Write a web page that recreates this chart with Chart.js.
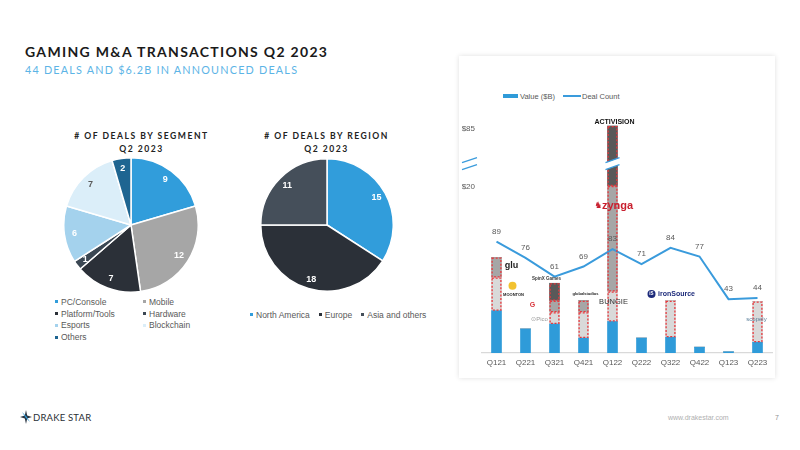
<!DOCTYPE html>
<html><head><meta charset="utf-8">
<script src="https://cdn.jsdelivr.net/npm/chart.js@4.4.0/dist/chart.umd.min.js"></script>
<style>
html,body{margin:0;padding:0;}
body{width:800px;height:450px;background:#fff;position:relative;overflow:hidden;font-family:"Liberation Sans",Arial,sans-serif;color:#595959;}
.abs{position:absolute;white-space:nowrap;}
.title{font-family:Lato,"Open Sans",sans-serif;font-weight:700;font-size:14px;line-height:14px;color:#1a1a1a;}
.sub{font-family:Lato,"Open Sans",sans-serif;font-weight:400;font-size:10.8px;line-height:10.8px;color:#5cb4e6;}
.ptitle{font-family:Lato,"Open Sans",sans-serif;font-weight:700;font-size:8.6px;line-height:13px;color:#222;text-align:center;}
.leg{font-size:8.5px;line-height:11.9px;color:#595959;}
.leg span.m{display:inline-block;width:3px;height:3px;margin-right:3px;vertical-align:middle;position:relative;top:-1px;}
.card{left:459px;top:56px;width:316px;height:322px;background:#fff;box-shadow:0 0 5px rgba(0,0,0,0.13);}
</style></head>
<body>
<div class="abs title" id="t1" style="left:25px;top:45px;" data-w="302">GAMING M&amp;A TRANSACTIONS Q2 2023</div>
<div class="abs sub" id="t2" style="left:25px;top:65.4px;" data-w="272">44 DEALS AND $6.2B IN ANNOUNCED DEALS</div>

<div class="abs ptitle" style="left:61px;top:129.5px;width:161px;">
<span data-w="133" style="display:inline-block">#&nbsp;OF DEALS BY SEGMENT</span><br><span data-w="43" style="display:inline-block">Q2 2023</span></div>
<div class="abs ptitle" style="left:246px;top:129.5px;width:161px;">
<span data-w="123" style="display:inline-block">#&nbsp;OF DEALS BY REGION</span><br><span data-w="43" style="display:inline-block">Q2 2023</span></div>

<canvas id="pie1" class="abs" style="left:63px;top:157px;" width="136" height="136"></canvas>
<canvas id="pie2" class="abs" style="left:260px;top:158px;" width="134" height="134"></canvas>

<div class="abs leg" id="leg1" style="left:55px;top:296.6px;width:180px;white-space:normal;"></div>
<div class="abs leg" id="leg2" style="left:250px;top:310px;"></div>

<div class="abs card"></div>
<div class="abs" style="left:503px;top:92px;font-size:7.5px;line-height:10px;color:#595959;">
<span style="display:inline-block;width:15px;height:4px;background:#2f9bd9;vertical-align:middle;position:relative;top:-1px;margin-right:2px;"></span>Value ($B)
<span style="display:inline-block;width:18px;height:1.5px;background:#3a9bdc;vertical-align:middle;position:relative;top:-1px;margin:0 1px 0 6px;"></span>Deal Count
</div>
<canvas id="combo" class="abs" style="left:459px;top:56px;" width="316" height="322"></canvas>

<div class="abs" style="left:20px;top:410px;width:12px;height:14px;">
<svg width="12" height="14" viewBox="0 0 12 14"><polygon points="6,0 7.2,5.5 12,7 7.2,8.5 6,14 4.8,8.5 0,7 4.8,5.5" fill="#2a3440"/><polygon points="2,2 6.5,6.5 10,12 5.5,7.5" fill="#2f9bd9"/></svg></div>
<div class="abs" style="left:33px;top:412px;font-family:Lato,sans-serif;font-size:9.5px;line-height:11px;color:#2a2f36;letter-spacing:0.2px;">DRAKE STAR</div>
<div class="abs" style="left:668px;top:413px;font-size:7px;line-height:9px;color:#b0b0b0;">www.drakestar.com</div>
<div class="abs" style="left:775px;top:413px;font-size:7px;line-height:9px;color:#909090;">7</div>

<script>
// ---------- data ----------
const SEGMENT_LABELS = ['PC/Console','Mobile','Platform/Tools','Hardware','Esports','Blockchain','Others'];
const SEGMENT_DEALS  = [9, 12, 7, 1, 6, 7, 2];
const REGION_LABELS  = ['North America','Europe','Asia and others'];
const REGION_DEALS   = [15, 18, 11];

const QUARTERS     = ['Q121','Q221','Q321','Q421','Q122','Q222','Q322','Q422','Q123','Q223'];
const VALUE_OTHER  = [5.1, 2.9, 3.5, 1.8, 3.8, 1.8, 1.9, 0.7, 0.15, 1.3];  // blue, $B
const VALUE_DEAL_A = [4.0, 0,   1.4, 3.1, 3.6, 0,   4.4, 0,   0,    4.9];  // light grey (large deals)
const VALUE_DEAL_B = [2.4, 0,   1.4, 1.4, 12.7,0,   0,   0,   0,    0  ];  // grey
const VALUE_DEAL_C = [0,   0,   2.1, 0,   68.7,0,   0,   0,   0,    0  ];  // dark grey
const DEAL_COUNT   = [89, 76, 61, 69, 83, 71, 84, 77, 43, 44];
const Y_TICK_VALUES = [20, 85];
const Y_TICK_LABELS = ['$20', '$85'];

// ---------- colours ----------
const SEG_COLORS = ['#319ddb','#a6a6a6','#2b3038','#3b4753','#a4d2ed','#dbeef9','#1e6591'];
const SEG_LABEL_COLORS = ['#fff','#fff','#fff','#fff','#fff','#595959','#fff'];
const REG_COLORS = ['#319ddb','#2b3038','#454f5a'];

// ---------- legends (html) ----------
document.getElementById('leg1').innerHTML = SEGMENT_LABELS.map((l,i)=>
  `<span style="display:inline-block;width:88px"><span class="m" style="background:${SEG_COLORS[i]}"></span>${l}</span>`).join('');
document.getElementById('leg2').innerHTML = REGION_LABELS.map((l,i)=>
  `<span style="display:inline-block;margin-right:9px"><span class="m" style="background:${REG_COLORS[i]}"></span>${l}</span>`).join('');

// ---------- text fitting ----------
document.querySelectorAll('[data-w]').forEach(el=>{
  el.style.letterSpacing='0px';
  const w = el.getBoundingClientRect().width;
  const n = el.textContent.length;
  el.style.letterSpacing = ((+el.dataset.w - w)/(n-1)) + 'px';
});

Chart.defaults.font.family = '"Liberation Sans", Arial, sans-serif';
Chart.defaults.color = '#595959';
Chart.defaults.animation = false;

// ---------- pie label plugin ----------
const pieLabels = {
  id:'pieLabels',
  afterDatasetsDraw(chart, args, opts){
    const ctx = chart.ctx, meta = chart.getDatasetMeta(0), data = chart.data.datasets[0].data;
    ctx.save();
    ctx.font = 'bold 9px "Liberation Sans", Arial, sans-serif';
    ctx.textAlign='center'; ctx.textBaseline='middle';
    meta.data.forEach((arc,i)=>{
      const p = arc.getProps(['x','y','startAngle','endAngle','outerRadius']);
      const mid = (p.startAngle+p.endAngle)/2, r = p.outerRadius*0.85;
      ctx.fillStyle = opts.colors[i];
      ctx.fillText(String(data[i]), p.x+Math.cos(mid)*r, p.y+Math.sin(mid)*r);
    });
    ctx.restore();
  }
};

function pie(id, labels, data, colors, labelColors){
  return new Chart(document.getElementById(id), {
    type:'pie',
    data:{labels, datasets:[{data, backgroundColor:colors, borderColor:'#fff', borderWidth:1.5}]},
    options:{responsive:false, layout:{padding:0},
      plugins:{legend:{display:false}, tooltip:{enabled:false}, pieLabels:{colors:labelColors}}},
    plugins:[pieLabels]
  });
}
pie('pie1', SEGMENT_LABELS, SEGMENT_DEALS, SEG_COLORS, SEG_LABEL_COLORS);
pie('pie2', REGION_LABELS, REGION_DEALS, REG_COLORS, ['#fff','#fff','#fff']);

// ---------- broken value axis ----------
const BREAK_START = 22, BREAK_RATIO = 0.08;
const toAxis = v => v <= BREAK_START ? v : BREAK_START + (v - BREAK_START)*BREAK_RATIO;
const SERIES = [VALUE_OTHER, VALUE_DEAL_A, VALUE_DEAL_B, VALUE_DEAL_C];
const SHOWN = SERIES.map(()=>[]);
QUARTERS.forEach((q,i)=>{
  let cum = 0;
  SERIES.forEach((s,k)=>{ const prev = toAxis(cum); cum += s[i]; SHOWN[k][i] = +(toAxis(cum)-prev).toFixed(4); });
});

const comboPlugin = {
  id:'comboDeco',
  afterDatasetsDraw(chart){
    const ctx = chart.ctx, xs = chart.scales.x, ys = chart.scales.y, y2 = chart.scales.y2;
    ctx.save();
    // dashed red outlines on the large-deal segments (dataset index k+1 -> SERIES[k])
    for (let k=1;k<=3;k++){
      const meta = chart.getDatasetMeta(k+1);
      meta.data.forEach((b,i)=>{
        if (!SERIES[k][i]) return;
        const p = b.getProps(['x','y','base','width']);
        ctx.strokeStyle='#e8383d'; ctx.lineWidth=1.3; ctx.setLineDash([2,1.6]);
        ctx.strokeRect(p.x-p.width/2+0.6, Math.min(p.y,p.base)+0.6, p.width-1.2, Math.abs(p.base-p.y)-1.2);
      });
    }
    ctx.setLineDash([]);
    // break marks
    const yb = ys.getPixelForValue(22.8);
    function slash(x0,x1){
      ctx.fillStyle='#fff';
      ctx.beginPath(); ctx.moveTo(x0,yb-1); ctx.lineTo(x1,yb-6); ctx.lineTo(x1,yb+1); ctx.lineTo(x0,yb+6); ctx.closePath(); ctx.fill();
      ctx.strokeStyle='#3a9bdc'; ctx.lineWidth=1.2;
      ctx.beginPath(); ctx.moveTo(x0,yb-1); ctx.lineTo(x1,yb-6); ctx.moveTo(x0,yb+6); ctx.lineTo(x1,yb+1); ctx.stroke();
    }
    const bx = xs.getPixelForValue(4);
    slash(bx-7, bx+7);
    slash(chart.chartArea.left-20, chart.chartArea.left-5);
    // deal count labels
    ctx.font = '8px "Liberation Sans", Arial, sans-serif';
    ctx.fillStyle='#595959'; ctx.textAlign='center'; ctx.textBaseline='middle';
    DEAL_COUNT.forEach((v,i)=>{ ctx.fillText(String(v), xs.getPixelForValue(i), y2.getPixelForValue(v)-10); });
    // deal logos (as text)
    const tx = (txt, cat, dx, val, font, color) => {
      ctx.font = font; ctx.fillStyle = color;
      ctx.fillText(txt, xs.getPixelForValue(cat)+dx, ys.getPixelForValue(val));
    };
    const top4 = chart.getDatasetMeta(4).data[4].y;
    ctx.font = 'bold 7px "Liberation Sans Narrow","Liberation Sans",Arial'; ctx.fillStyle='#111';
    ctx.fillText('ACTIVISION', xs.getPixelForValue(4)+2, top4-4);
    tx('zynga', 4, 5, 17.7, 'bold 11px "Liberation Sans",Arial', '#c8202f');
    tx('♞', 4, -14, 17.7, '9px "DejaVu Sans"', '#c8202f');
    tx('BUNGIE', 4, 1, 6.1, '7.5px "Liberation Sans",Arial', '#333');
    tx('ironSource', 6, 6, 7.1, 'bold 7px "Liberation Sans",Arial', '#1c2a7a');
    ctx.fillStyle='#1c2a7a'; ctx.beginPath(); ctx.arc(xs.getPixelForValue(6)-19, ys.getPixelForValue(7.1), 4, 0, Math.PI*2); ctx.fill();
    tx('iS', 6, -19, 7.1, 'bold 4.5px "Liberation Sans",Arial', '#fff');
    tx('scopely', 9, -1, 4.1, '6px "Liberation Sans",Arial', '#5a7f9a');
    tx('glu', 0, 15, 10.5, 'bold 9px "Liberation Sans",Arial', '#222');
    ctx.fillStyle='#f2c230'; ctx.beginPath(); ctx.arc(xs.getPixelForValue(0)+16, ys.getPixelForValue(8.1), 4, 0, Math.PI*2); ctx.fill();
    tx('MOONTON', 0, 17, 7.0, 'bold 4px "Liberation Sans",Arial', '#222');
    tx('SpinX Games', 1, 21, 9.0, 'bold 4.5px "Liberation Sans",Arial', '#3a3a3a');
    tx('G', 1, 7, 5.8, 'bold 7px "Liberation Sans",Arial', '#d9343b');
    tx('⊙Pico', 1, 14, 4.1, '6px "Liberation Sans",Arial', '#9a9a9a');
    tx('globalstudios', 3, 2, 7.1, 'bold 4px "Liberation Sans",Arial', '#222');
    ctx.restore();
  }
};

new Chart(document.getElementById('combo'), {
  data:{
    labels: QUARTERS,
    datasets:[
      {type:'line', label:'Deal Count', data:DEAL_COUNT, yAxisID:'y2', borderColor:'#3a9bdc', borderWidth:2, pointRadius:0, tension:0, order:0},
      {type:'bar', label:'Value ($B)', data:SHOWN[0], backgroundColor:'#2f9bd9', yAxisID:'y', barThickness:10, order:1},
      {type:'bar', label:'Deal A', data:SHOWN[1], backgroundColor:'#d9d9d9', yAxisID:'y', barThickness:10, order:1},
      {type:'bar', label:'Deal B', data:SHOWN[2], backgroundColor:'#a6a6a6', yAxisID:'y', barThickness:10, order:1},
      {type:'bar', label:'Deal C', data:SHOWN[3], backgroundColor:'#595959', yAxisID:'y', barThickness:10, order:1}
    ]
  },
  options:{
    responsive:false,
    layout:{padding:{top:64,bottom:5,left:0,right:3}},
    plugins:{legend:{display:false}, tooltip:{enabled:false}},
    scales:{
      x:{stacked:true, grid:{display:false, drawTicks:false}, border:{display:true,color:'#d9d9d9',width:1.2},
         ticks:{padding:5, font:{size:8}, color:'#595959'}, afterFit:s=>{s.height=20;}},
      y:{stacked:true, min:0, max:28.06, position:'left', grid:{display:false, drawTicks:false}, border:{display:false},
         afterBuildTicks:s=>{ s.ticks = Y_TICK_VALUES.map(v=>({value:toAxis(v)})); },
         ticks:{font:{size:8}, color:'#595959', padding:7,
           callback:(v)=>{ const i = Y_TICK_VALUES.findIndex(t=>Math.abs(toAxis(t)-v)<1e-6); return i>=0?Y_TICK_LABELS[i]:''; }},
         afterFit:s=>{s.width=23;}},
      y2:{display:false, min:0, max:186}
    }
  },
  plugins:[comboPlugin]
});
</script>
</body></html>
